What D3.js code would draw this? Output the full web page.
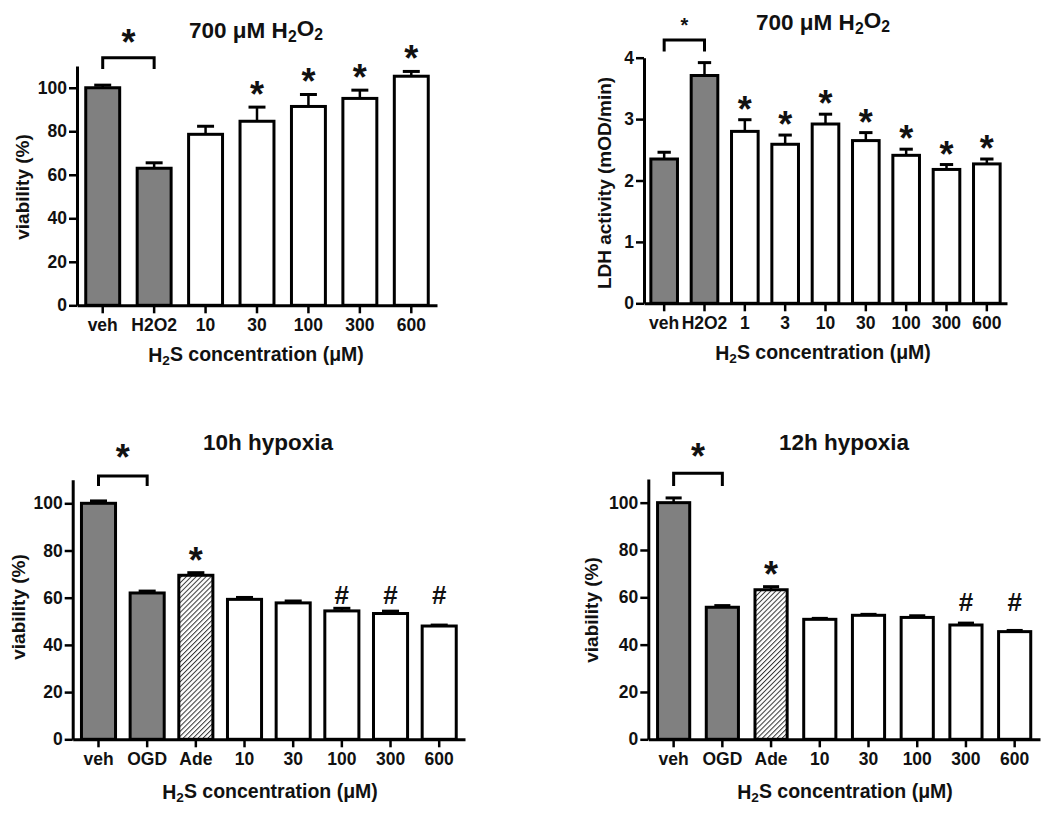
<!DOCTYPE html>
<html>
<head>
<meta charset="utf-8">
<script src="https://cdn.jsdelivr.net/npm/d3@7"></script>
<style>
  body { margin: 0; background: #fff; }
  text { font-family: "Liberation Sans", Arial, sans-serif; font-weight: bold; fill: #111; }
</style>
</head>
<body>
<svg id="chart" width="1050" height="816"></svg>
<script>
// panel A: viability, 700 uM H2O2
var aLabels = ["veh", "H2O2", "10", "30", "100", "300", "600"];
var aValues = [100, 63, 78.6, 84.6, 91.4, 95.1, 105.3];
var aErrors = [1.2, 2.5, 3.7, 6.5, 5.5, 3.8, 2.2];
var aKinds  = ["ctrl", "ctrl", "h2s", "h2s", "h2s", "h2s", "h2s"];
var aMarks  = ["", "", "", "*", "*", "*", "*"];

// panel B: LDH activity, 700 uM H2O2
var bLabels = ["veh", "H2O2", "1", "3", "10", "30", "100", "300", "600"];
var bValues = [2.35, 3.71, 2.80, 2.59, 2.92, 2.65, 2.41, 2.18, 2.27];
var bErrors = [0.11, 0.21, 0.19, 0.15, 0.16, 0.13, 0.10, 0.08, 0.08];
var bKinds  = ["ctrl", "ctrl", "h2s", "h2s", "h2s", "h2s", "h2s", "h2s", "h2s"];
var bMarks  = ["", "", "*", "*", "*", "*", "*", "*", "*"];

// panel C: 10h hypoxia
var cLabels = ["veh", "OGD", "Ade", "10", "30", "100", "300", "600"];
var cValues = [100, 62, 69.5, 59.3, 57.8, 54.4, 53.3, 48];
var cErrors = [1, 0.8, 1.1, 0.8, 0.8, 1.1, 1, 0.4];
var cKinds  = ["ctrl", "ctrl", "ade", "h2s", "h2s", "h2s", "h2s", "h2s"];
var cMarks  = ["", "", "*", "", "", "#", "#", "#"];

// panel D: 12h hypoxia
var dLabels = ["veh", "OGD", "Ade", "10", "30", "100", "300", "600"];
var dValues = [100, 55.8, 63.2, 50.7, 52.4, 51.5, 48.3, 45.5];
var dErrors = [2, 0.7, 1.3, 0.4, 0.4, 0.7, 0.8, 0.5];
var dKinds  = ["ctrl", "ctrl", "ade", "h2s", "h2s", "h2s", "h2s", "h2s"];
var dMarks  = ["", "", "*", "", "", "", "#", "#"];

var pctTicks = [0, 20, 40, 60, 80, 100];
var ldhTicks = [0, 1, 2, 3, 4];

var svg = d3.select("#chart");

// hatch for adenosine bar
var defs = svg.append("defs");
var pat = defs.append("pattern")
  .attr("id", "hatch")
  .attr("patternUnits", "userSpaceOnUse")
  .attr("width", 3.5).attr("height", 3.5)
  .attr("patternTransform", "rotate(45)");
pat.append("rect").attr("width", 3.5).attr("height", 3.5).attr("fill", "#fff");
pat.append("line").attr("x1", 0).attr("y1", 0).attr("x2", 0).attr("y2", 3.5)
  .attr("stroke", "#333").attr("stroke-width", 2);

function fillFor(k) {
  if (k == "ctrl") return "#808080";
  if (k == "ade") return "url(#hatch)";
  return "#fff";
}

function addH2Text(sel, parts) {
  // parts: [text, isSub, backUp]
  parts.forEach(function(p) {
    var t = sel.append("tspan").text(p[0]);
    if (p[1]) t.attr("font-size", "70%").attr("dy", "0.25em");
    else if (p[2]) t.attr("dy", "-0.25em");
  });
}

function drawPanel(cfg) {
  var g = svg.append("g");
  var x = d3.scaleBand()
    .domain(cfg.labels)
    .range(cfg.xRange)
    .paddingInner(cfg.padIn)
    .paddingOuter(cfg.padOut);
  var y = d3.scaleLinear()
    .domain([0, cfg.yMax])
    .range(cfg.yRange);
  var cx = function(d) { return x(d) + x.bandwidth() / 2; };

  // bars
  g.selectAll(".bar")
    .data(cfg.labels)
    .enter().append("rect")
    .attr("class", "bar")
    .attr("x", function(d) { return x(d); })
    .attr("width", x.bandwidth())
    .attr("y", function(d, i) { return y(cfg.values[i]); })
    .attr("height", function(d, i) { return y(0) - y(cfg.values[i]); })
    .attr("fill", function(d, i) { return fillFor(cfg.kinds[i]); })
    .attr("stroke", "#000")
    .attr("stroke-width", 3);

  // error bars (upper only)
  g.selectAll(".err")
    .data(cfg.labels)
    .enter().append("line")
    .attr("x1", cx).attr("x2", cx)
    .attr("y1", function(d, i) { return y(cfg.values[i]); })
    .attr("y2", function(d, i) { return y(cfg.values[i] + cfg.errors[i]); })
    .attr("stroke", "#000").attr("stroke-width", 2.5);
  g.selectAll(".cap")
    .data(cfg.labels)
    .enter().append("line")
    .attr("x1", function(d) { return cx(d) - x.bandwidth() / 4; })
    .attr("x2", function(d) { return cx(d) + x.bandwidth() / 4; })
    .attr("y1", function(d, i) { return y(cfg.values[i] + cfg.errors[i]); })
    .attr("y2", function(d, i) { return y(cfg.values[i] + cfg.errors[i]); })
    .attr("stroke", "#000").attr("stroke-width", 3);

  // axes
  var ya = g.append("g")
    .attr("transform", "translate(" + cfg.xRange[0] + ",0)")
    .call(d3.axisLeft(y).tickValues(cfg.yTicks).tickFormat(d3.format("d"))
      .tickSize(8).tickSizeOuter(0).tickPadding(2));
  var xa = g.append("g")
    .attr("transform", "translate(0," + y(0) + ")")
    .call(d3.axisBottom(x).tickSize(8).tickSizeOuter(0).tickPadding(5));
  [ya, xa].forEach(function(a) {
    a.attr("font-family", null);
    a.select(".domain").attr("stroke", "#000").attr("stroke-width", 3);
    a.selectAll(".tick line").attr("stroke", "#000").attr("stroke-width", 2.5);
    a.selectAll(".tick text").attr("font-size", 17.5).attr("fill", "#111");
  });

  // significance marks
  cfg.marks.forEach(function(m, i) {
    if (m == "*") {
      g.append("text")
        .attr("x", cx(cfg.labels[i]))
        .attr("y", y(cfg.values[i] + cfg.errors[i]) + cfg.starShift)
        .attr("text-anchor", "middle")
        .attr("font-size", 36)
        .text("*");
    } else if (m == "#") {
      g.append("text")
        .attr("x", cx(cfg.labels[i]))
        .attr("y", y(cfg.hashLevel) + 9)
        .attr("text-anchor", "middle")
        .attr("font-size", 26)
        .text("#");
    }
  });

  // bracket veh vs treatment
  var b0 = cx(cfg.labels[0]), b1 = cx(cfg.labels[1]);
  var bt = y(cfg.bracket[0]), bb = y(cfg.bracket[1]);
  g.append("path")
    .attr("d", "M" + b0 + "," + bb + "V" + bt + "H" + b1 + "V" + bb)
    .attr("fill", "none").attr("stroke", "#000").attr("stroke-width", 3);
  g.append("text")
    .attr("x", (b0 + b1) / 2)
    .attr("y", bt - cfg.bracketStar[0])
    .attr("text-anchor", "middle")
    .attr("font-size", cfg.bracketStar[1])
    .attr("font-weight", cfg.bracketStar[2])
    .text("*");

  // title
  var t = g.append("text")
    .attr("x", cfg.title[0]).attr("y", cfg.title[1])
    .attr("text-anchor", "middle")
    .attr("font-size", 22.5);
  if (cfg.h2o2) {
    addH2Text(t, [["700 \u03bcM H"], ["2", true], ["O", false, true], ["2", true]]);
  } else {
    t.text(cfg.titleText);
  }

  // x label
  var xl = g.append("text")
    .attr("x", cfg.xLabel[0]).attr("y", cfg.xLabel[1])
    .attr("text-anchor", "middle")
    .attr("font-size", 19.5);
  addH2Text(xl, [["H"], ["2", true], ["S concentration (\u03bcM)", false, true]]);

  // y label
  g.append("text")
    .attr("transform", "translate(" + cfg.yLabel[0] + "," + cfg.yLabel[1] + ") rotate(-90)")
    .attr("text-anchor", "middle")
    .attr("font-size", 19)
    .text(cfg.yText);
}

drawPanel({
  labels: aLabels, values: aValues, errors: aErrors, kinds: aKinds, marks: aMarks,
  xRange: [77, 437], yRange: [305.3, 66], yMax: 110, yTicks: pctTicks,
  padIn: 0.34, padOut: 0.17, starShift: 0,
  bracket: [113.8, 108.6], bracketStar: [3, 36, "bold"],
  title: [256, 38], h2o2: true,
  xLabel: [256, 362], yLabel: [29, 187], yText: "viability (%)"
});

drawPanel({
  labels: bLabels, values: bValues, errors: bErrors, kinds: bKinds, marks: bMarks,
  xRange: [644, 1007], yRange: [303.3, 57.7], yMax: 4, yTicks: ldhTicks,
  padIn: 0.34, padOut: 0.17, starShift: 2,
  bracket: [4.29, 4.1], bracketStar: [7.5, 20, "normal"],
  title: [823, 30], h2o2: true,
  xLabel: [823, 360], yLabel: [611, 183], yText: "LDH activity (mOD/min)"
});

drawPanel({
  labels: cLabels, values: cValues, errors: cErrors, kinds: cKinds, marks: cMarks,
  xRange: [72.7, 465], yRange: [739.3, 479.7], yMax: 110, yTicks: pctTicks,
  padIn: 0.30, padOut: 0.18, hashLevel: 61.1, starShift: 0,
  bracket: [111.6, 107.3], bracketStar: [6, 36, "bold"],
  title: [268, 450], titleText: "10h hypoxia",
  xLabel: [270, 799], yLabel: [25, 607], yText: "viability (%)"
});

drawPanel({
  labels: dLabels, values: dValues, errors: dErrors, kinds: dKinds, marks: dMarks,
  xRange: [648.3, 1040], yRange: [739.3, 479], yMax: 110, yTicks: pctTicks,
  padIn: 0.34, padOut: 0.19, hashLevel: 58.2, starShift: 0,
  bracket: [112.4, 107], bracketStar: [4, 36, "bold"],
  title: [844, 450], titleText: "12h hypoxia",
  xLabel: [845, 799], yLabel: [598, 610], yText: "viability (%)"
});
</script>
</body>
</html>
